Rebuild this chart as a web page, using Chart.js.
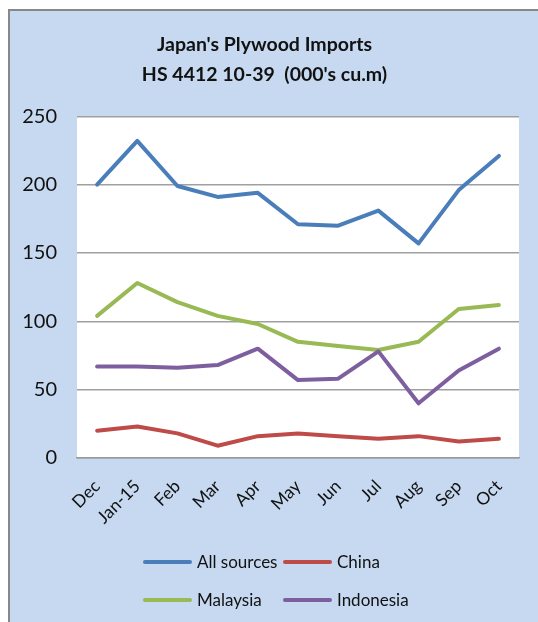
<!DOCTYPE html>
<html>
<head>
<meta charset="utf-8">
<script src="https://cdn.jsdelivr.net/npm/chart.js@4/dist/chart.umd.min.js"></script>
<style>
  html, body { margin: 0; padding: 0; background: #fff; }
  #frame {
    position: absolute; left: 8px; top: 9px;
    width: 530px; height: 613px;
    border-left: 2px solid #888; border-top: 2px solid #888;
    background: #c6d9f0;
    box-sizing: border-box;
  }
  canvas { display: block; }
</style>
</head>
<body>
<div id="frame"><canvas id="c" width="528" height="611"></canvas></div>
<script>
// data
const months = ["Dec", "Jan-15", "Feb", "Mar", "Apr", "May", "Jun", "Jul", "Aug", "Sep", "Oct"];
const allSources = [200, 232, 199, 191, 194, 171, 170, 181, 157, 196, 221];
const china      = [20, 23, 18, 9, 16, 18, 16, 14, 16, 12, 14];
const malaysia   = [104, 128, 114, 104, 98, 85, 82, 79, 85, 109, 112];
const indonesia  = [67, 67, 66, 68, 80, 57, 58, 78, 40, 64, 80];
const yTicks = [0, 50, 100, 150, 200, 250];

const FONT = "Lato, 'Open Sans', sans-serif";

const series = [
  { label: "All sources", data: allSources, color: "#4a7ebb", order: 3 },
  { label: "China",       data: china,      color: "#be4b48", order: 2 },
  { label: "Malaysia",    data: malaysia,   color: "#98b954", order: 1 },
  { label: "Indonesia",   data: indonesia,  color: "#7d5fa0", order: 0 },
];

/* white plot area */
const plotBg = {
  id: "plotBg",
  beforeDraw(chart){
    const a = chart.chartArea, ctx = chart.ctx;
    ctx.save();
    ctx.fillStyle = "#fff";
    ctx.fillRect(a.left, a.top, a.right - a.left, a.bottom - a.top);
    ctx.restore();
  }
};

/* excel style 2x2 legend */
const gridLegend = {
  id: "gridLegend",
  afterDraw(chart){
    const ctx = chart.ctx;
    const cols = [133, 273], rows = [551, 589];
    ctx.save();
    ctx.font = "17px " + FONT;
    ctx.textBaseline = "middle";
    chart.data.datasets.forEach((ds, i) => {
      const x = cols[i % 2], y = rows[Math.floor(i / 2)];
      ctx.strokeStyle = ds.borderColor;
      ctx.lineWidth = 4;
      ctx.lineCap = "round";
      ctx.beginPath(); ctx.moveTo(x + 2, y); ctx.lineTo(x + 47, y); ctx.stroke();
      ctx.fillStyle = "#111";
      ctx.fillText(ds.label, x + 54, y + 1);
    });
    ctx.restore();
  }
};

new Chart(document.getElementById("c"), {
  type: "line",
  data: {
    labels: months,
    datasets: series.map(s => ({
      label: s.label, data: s.data, order: s.order,
      borderColor: s.color, backgroundColor: s.color,
      borderWidth: 4, pointRadius: 0, tension: 0,
      borderJoinStyle: "round", borderCapStyle: "round"
    }))
  },
  options: {
    responsive: false, animation: false, devicePixelRatio: 1,
    layout: { padding: { left: 0, right: 19, top: 0, bottom: 94 } },
    plugins: {
      legend: { display: false },
      tooltip: { enabled: false },
      title: {
        display: true,
        text: ["Japan's Plywood Imports", "HS 4412 10-39  (000's cu.m)"],
        color: "#111",
        font: { family: FONT, size: 19.5, weight: "bold", lineHeight: 1.52 },
        padding: { top: 19, bottom: 27 }
      }
    },
    scales: {
      x: {
        offset: true,
        grid: { display: false },
        border: { display: true, color: "#9a9a9a", width: 1.5 },
        ticks: {
          minRotation: 45, maxRotation: 45, padding: 10,
          color: "#111", font: { family: FONT, size: 17.5 }
        },
        afterFit(s){ s.height = 70; }
      },
      y: {
        min: 0, max: 250,
        afterBuildTicks(s){ s.ticks = yTicks.map(v => ({ value: v })); },
        grid: { color: "#a0a0a0", lineWidth: 1.5, drawTicks: false },
        border: { display: false },
        ticks: { padding: 20, color: "#111", font: { family: FONT, size: 20 } },
        afterFit(s){ s.width = 67; }
      }
    }
  },
  plugins: [plotBg, gridLegend]
});
</script>
</body>
</html>
